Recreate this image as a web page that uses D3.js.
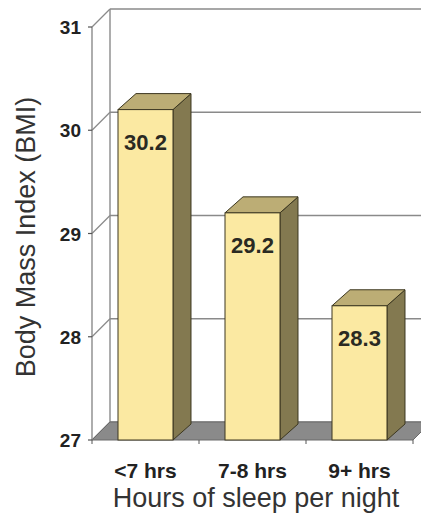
<!DOCTYPE html>
<html>
<head>
<meta charset="utf-8">
<script src="https://cdn.jsdelivr.net/npm/d3@7"></script>
<style>
  body { margin: 0; background: #fff; }
  svg { display: block; }
</style>
</head>
<body>
<div id="chart"></div>
<script>
// chart data
const categories = ['<7 hrs', '7-8 hrs', '9+ hrs'];
const bmiValues = [30.2, 29.2, 28.3];
const yTicks = [27, 28, 29, 30, 31];
const yTitle = 'Body Mass Index (BMI)';
const xTitle = 'Hours of sleep per night';

const w = 421, h = 515;
const margin = { left: 92, right: 8, top: 27, bottom: 75 };
const depth = { dx: 18, dy: -18 }; // 3d offset of walls
const barDepth = { dx: 18, dy: -16 }; // 3d offset of bars

const svg = d3.select('#chart').append('svg')
  .attr('width', w)
  .attr('height', h);

const x = d3.scaleBand()
  .domain(categories)
  .range([margin.left, w - margin.right])
  .paddingInner(0.486)
  .paddingOuter(0.243);

const y = d3.scaleLinear()
  .domain([27, 31])
  .range([h - margin.bottom, margin.top]);

const base = y(27);
const x0 = margin.left, x1 = w - margin.right;
const gridColor = '#8a8a8a';

// back wall gridlines
svg.append('g').selectAll('line.grid')
  .data(yTicks)
  .enter().append('line')
  .attr('x1', x0 + depth.dx).attr('x2', w)
  .attr('y1', d => y(d) + depth.dy).attr('y2', d => y(d) + depth.dy)
  .attr('stroke', gridColor).attr('stroke-width', 1.6);

// side wall diagonals
svg.append('g').selectAll('line.diag')
  .data(yTicks)
  .enter().append('line')
  .attr('x1', x0).attr('y1', d => y(d))
  .attr('x2', x0 + depth.dx).attr('y2', d => y(d) + depth.dy)
  .attr('stroke', gridColor).attr('stroke-width', 1.2);

// back wall left edge
svg.append('line')
  .attr('x1', x0 + depth.dx).attr('x2', x0 + depth.dx)
  .attr('y1', y(31) + depth.dy).attr('y2', base + depth.dy)
  .attr('stroke', gridColor).attr('stroke-width', 1.4);

// floor
svg.append('polygon')
  .attr('points', [
    [x0, base], [x1, base], [x1 + depth.dx, base + depth.dy], [x0 + depth.dx, base + depth.dy]
  ].map(p => p.join(',')).join(' '))
  .attr('fill', '#8a8a8a')
  .attr('stroke', '#6a6a6a').attr('stroke-width', 1);

// floor ticks between categories
const bounds = categories.map(c => x(c) - x.step() * x.paddingOuter()).concat([x1]);
svg.append('g').selectAll('line.ftick')
  .data(bounds)
  .enter().append('line')
  .attr('x1', d => d).attr('x2', d => d)
  .attr('y1', base).attr('y2', base + 4)
  .attr('stroke', '#555').attr('stroke-width', 1);

// front y axis
svg.append('line')
  .attr('x1', x0).attr('x2', x0)
  .attr('y1', y(31)).attr('y2', base)
  .attr('stroke', '#777').attr('stroke-width', 1.2);

svg.append('g').selectAll('line.ytick')
  .data(yTicks)
  .enter().append('line')
  .attr('x1', x0 - 4).attr('x2', x0)
  .attr('y1', d => y(d)).attr('y2', d => y(d))
  .attr('stroke', '#555').attr('stroke-width', 1.2);

svg.append('g').selectAll('text.ylab')
  .data(yTicks)
  .enter().append('text')
  .attr('x', 81)
  .attr('y', d => y(d) + 7)
  .attr('text-anchor', 'end')
  .attr('font-family', 'Liberation Sans, Arial, sans-serif')
  .attr('font-weight', 'bold')
  .attr('font-size', 19)
  .attr('fill', '#222')
  .text(d => d);

// bars
const bars = svg.append('g').selectAll('g.bar')
  .data(bmiValues.map((v, i) => ({ cat: categories[i], value: v })))
  .enter().append('g')
  .attr('class', 'bar');

const pts = arr => arr.map(p => p.join(',')).join(' ');

bars.append('polygon') // side
  .attr('points', d => {
    const r = x(d.cat) + x.bandwidth(), t = y(d.value);
    return pts([[r, t], [r + barDepth.dx, t + barDepth.dy], [r + barDepth.dx, base + barDepth.dy], [r, base]]);
  })
  .attr('fill', '#837950')
  .attr('stroke', '#3c3720').attr('stroke-width', 1);

bars.append('polygon') // top
  .attr('points', d => {
    const l = x(d.cat), r = l + x.bandwidth(), t = y(d.value);
    return pts([[l, t], [l + barDepth.dx, t + barDepth.dy], [r + barDepth.dx, t + barDepth.dy], [r, t]]);
  })
  .attr('fill', '#bcad75')
  .attr('stroke', '#3c3720').attr('stroke-width', 1);

bars.append('rect') // front
  .attr('x', d => x(d.cat))
  .attr('y', d => y(d.value))
  .attr('width', x.bandwidth())
  .attr('height', d => base - y(d.value))
  .attr('fill', '#fbe9a2')
  .attr('stroke', '#3c3720').attr('stroke-width', 1);

bars.append('text')
  .attr('x', d => x(d.cat) + x.bandwidth() / 2)
  .attr('y', d => y(d.value) + 40)
  .attr('text-anchor', 'middle')
  .attr('font-family', 'Liberation Sans, Arial, sans-serif')
  .attr('font-weight', 'bold')
  .attr('font-size', 22)
  .attr('fill', '#2a2a22')
  .text(d => d.value.toFixed(1));

// x category labels
svg.append('g').selectAll('text.xlab')
  .data(categories)
  .enter().append('text')
  .attr('x', d => x(d) + x.bandwidth() / 2)
  .attr('y', 478)
  .attr('text-anchor', 'middle')
  .attr('font-family', 'Liberation Sans, Arial, sans-serif')
  .attr('font-weight', 'bold')
  .attr('font-size', 21)
  .attr('fill', '#222')
  .text(d => d);

// axis titles
svg.append('text')
  .attr('x', 256)
  .attr('y', 507)
  .attr('text-anchor', 'middle')
  .attr('font-family', 'Liberation Sans, Arial, sans-serif')
  .attr('font-size', 27)
  .attr('fill', '#333')
  .text(xTitle);

svg.append('text')
  .attr('transform', 'translate(35,237) rotate(-90)')
  .attr('text-anchor', 'middle')
  .attr('font-family', 'Liberation Sans, Arial, sans-serif')
  .attr('font-size', 27)
  .attr('fill', '#333')
  .text(yTitle);
</script>
</body>
</html>
